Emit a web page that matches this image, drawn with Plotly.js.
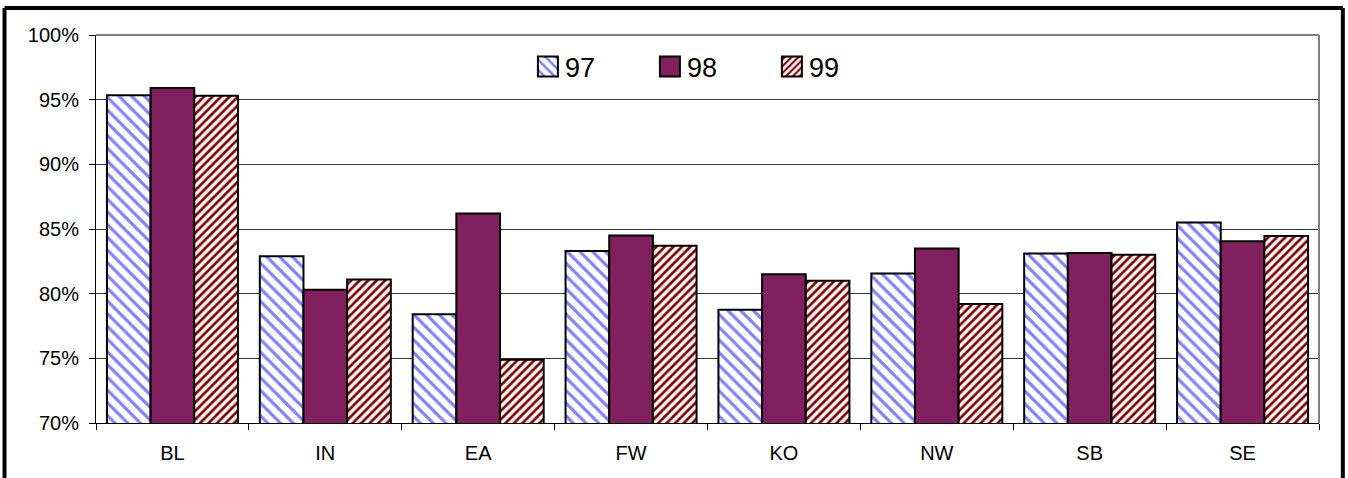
<!DOCTYPE html>
<html>
<head>
<meta charset="utf-8">
<script src="https://cdn.plot.ly/plotly-3.0.1.min.js"></script>
<style>
  html, body { margin: 0; padding: 0; background: #ffffff; }
  #chart { width: 1348px; height: 478px; }
</style>
</head>
<body>
<div id="chart"></div>
<script>
// ---- data (percent) ----
const categories = ["BL", "IN", "EA", "FW", "KO", "NW", "SB", "SE"];
const seriesNames = ["97", "98", "99"];
const values97 = [95.35, 82.9, 78.4, 83.3, 78.75, 81.55, 83.1, 85.5];
const values98 = [95.9, 80.3, 86.2, 84.5, 81.5, 83.5, 83.15, 84.05];
const values99 = [95.3, 81.1, 74.9, 83.7, 81.0, 79.2, 83.0, 84.45];
const yTickVals = [70, 75, 80, 85, 90, 95, 100];
const yTickText = ["70%", "75%", "80%", "85%", "90%", "95%", "100%"];

const FONT = "Arial, 'Liberation Sans', sans-serif";

const traces = [
  {
    type: "bar", name: seriesNames[0], x: categories, y: values97,
    marker: {
      color: "#ffffff",
      line: { color: "#000000", width: 2 },
      pattern: { shape: "\\", fgcolor: "#8080FF", bgcolor: "#ffffff", size: 9, solidity: 0.35, fillmode: "replace" }
    }
  },
  {
    type: "bar", name: seriesNames[1], x: categories, y: values98,
    marker: { color: "#80205F", line: { color: "#000000", width: 2 } }
  },
  {
    type: "bar", name: seriesNames[2], x: categories, y: values99,
    marker: {
      color: "#ffffff",
      line: { color: "#000000", width: 2 },
      pattern: { shape: "/", fgcolor: "#800000", bgcolor: "#ffffff", size: 6, solidity: 0.45, fillmode: "replace" }
    }
  }
];

const layout = {
  width: 1348, height: 478,
  margin: { l: 96, r: 29, t: 35, b: 55, pad: 0 },
  paper_bgcolor: "#ffffff", plot_bgcolor: "#ffffff",
  font: { family: FONT, size: 20, color: "#000000" },
  barmode: "group", bargap: 0.143, bargroupgap: 0,
  showlegend: true,
  legend: {
    orientation: "h", x: 0.3507, xanchor: "left", y: 0.9175, yanchor: "middle",
    font: { family: FONT, size: 27, color: "#000000" },
    bgcolor: "rgba(0,0,0,0)", borderwidth: 0,
    entrywidth: 77, entrywidthmode: "pixels",
    traceorder: "normal"
  },
  xaxis: {
    type: "category", showgrid: false, zeroline: false,
    showline: true, linecolor: "#000000", linewidth: 1,
    ticks: "outside", tickson: "boundaries", ticklen: 6, tickcolor: "#000000", tickwidth: 1,
    ticklabelstandoff: 12,
    tickfont: { family: FONT, size: 20, color: "#000000" }
  },
  yaxis: {
    range: [70, 100], tickvals: yTickVals, ticktext: yTickText,
    showgrid: true, gridcolor: "#333333", gridwidth: 1, zeroline: false,
    showline: true, linecolor: "#000000", linewidth: 1,
    ticks: "outside", ticklen: 6, tickcolor: "#000000", tickwidth: 1,
    ticklabelstandoff: 6,
    tickfont: { family: FONT, size: 20, color: "#000000" }
  },
  shapes: [
    // plot-area border (gray, top and right)
    { type: "line", xref: "paper", yref: "paper", x0: 0, x1: 1, y0: 1, y1: 1, line: { color: "#808080", width: 2 }, layer: "above" },
    { type: "line", xref: "paper", yref: "paper", x0: 1, x1: 1, y0: 0, y1: 1, line: { color: "#808080", width: 2 }, layer: "above" },
    // outer black frame (left, top, right)
    { type: "line", xref: "paper", yref: "paper", x0: -0.0748, x1: -0.0748, y0: -0.2, y1: 1.0696, line: { color: "#000000", width: 4 } },
    { type: "line", xref: "paper", yref: "paper", x0: -0.0748, x1: 1.0195, y0: 1.0696, y1: 1.0696, line: { color: "#000000", width: 4 } },
    { type: "line", xref: "paper", yref: "paper", x0: 1.0195, x1: 1.0195, y0: -0.2, y1: 1.0696, line: { color: "#000000", width: 4 } }
  ]
};

Plotly.newPlot("chart", traces, layout, { displayModeBar: false, staticPlot: true }).then(function (gd) {
  // enlarge the legend swatches to match the reference's bigger squares
  gd.querySelectorAll(".legend .legendpoints path").forEach(function (p) {
    p.setAttribute("d", "M13,10H-7V-10H13Z");
    p.style.strokeWidth = "2px";
    p.style.stroke = "#000000";
  });
});
</script>
</body>
</html>
